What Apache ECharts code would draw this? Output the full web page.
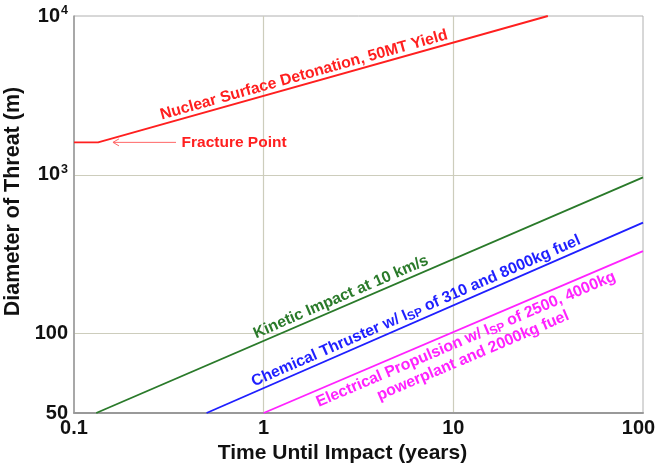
<!DOCTYPE html>
<html><head><meta charset="utf-8">
<script src="https://cdn.jsdelivr.net/npm/echarts@6/dist/echarts.min.js"></script>
<style>html,body{margin:0;padding:0;background:#fff}#c{width:655px;height:465px}</style>
</head><body><div id="c"></div>
<script>
// ---- axis ticks ----
const xTickValues = [0.1, 1, 10, 100];
const xTickLabels = ['0.1', '1', '10', '{last|100}'];
const yTickValues = [31.6, 100, 1000, 10000];
const yTickLabels = ['50', '100', '10{sup|3}', '10{sup|4}'];

// ---- series (time in years, diameter in m) ----
const nuclearTime = [0.1, 0.134, 31.5];
const nuclearDiam = [1600, 1600, 10000];
const kineticTime = [0.131, 100];
const kineticDiam = [31.6, 964];
const chemicalTime = [0.5, 100];
const chemicalDiam = [31.6, 500];
const electricTime = [1, 100];
const electricDiam = [31.6, 330];

// ---- annotation anchors (data coords) ----
const nuclearLabelAt = [1.63, 4246];
const fractureLabelAt = [0.698, 1585];
const fractureArrowFrom = [0.345, 1600];
const fractureArrowTo = [0.1605, 1600];
const kineticLabelAt = [2.557, 169.8];
const chemicalLabelAt = [6.355, 138.6];
const electricLabelAt = [12.17, 81.6];

const FONT = '"Liberation Sans", Arial, Helvetica, sans-serif';
const C_RED = '#ff1f1f', C_GREEN = '#2a7a2a', C_BLUE = '#1f1fff', C_MAG = '#ff22ff';

function zip(xs, ys) { return xs.map((x, i) => [x, ys[i]]); }
function nearestLabel(v, vals, labels) {
  let best = 0, bd = Infinity;
  vals.forEach((t, i) => { const d = Math.abs(Math.log10(v) - Math.log10(t)); if (d < bd) { bd = d; best = i; } });
  return bd < 0.05 ? labels[best] : '';
}

const chart = echarts.init(document.getElementById('c'), null, { renderer: 'canvas' });
const lineSeries = (name, xs, ys, color) => ({
  name, type: 'line', data: zip(xs, ys), showSymbol: false, symbol: 'none',
  lineStyle: { color, width: 1.9 }, itemStyle: { color }, z: 5, silent: true
});
const TICK_FS = 20;

chart.setOption({
  animation: false,
  backgroundColor: '#fff',
  grid: { left: 74, right: 12, top: 16, bottom: 52, show: true, borderColor: '#b0b0b0', borderWidth: 1,
    containLabel: false, outerBoundsMode: 'none' },
  xAxis: {
    type: 'log', logBase: 10, min: xTickValues[0], max: xTickValues[xTickValues.length - 1],
    name: 'Time Until Impact (years)', nameLocation: 'middle', nameGap: 27,
    nameTextStyle: { fontFamily: FONT, fontWeight: 'bold', fontSize: 21, color: '#111', padding: [0, 32, 0, 0] },
    axisLine: { lineStyle: { color: '#999', width: 2 } },
    axisTick: { show: false },
    axisLabel: { fontFamily: FONT, fontWeight: 'bold', fontSize: TICK_FS, color: '#111', margin: 5,
      showMinLabel: true, showMaxLabel: true, hideOverlap: false,
      formatter: v => nearestLabel(v, xTickValues, xTickLabels),
      rich: { last: { fontFamily: FONT, fontWeight: 'bold', fontSize: TICK_FS, color: '#111', padding: [0, 9, 0, 0] } } },
    splitLine: { show: true, showMinLine: false, showMaxLine: false, lineStyle: { color: '#cdcdbc', width: 1.2 } }
  },
  yAxis: {
    type: 'log', logBase: 10, min: yTickValues[0], max: yTickValues[yTickValues.length - 1],
    name: 'Diameter of Threat (m)', nameLocation: 'middle', nameGap: 41,
    nameTextStyle: { fontFamily: FONT, fontWeight: 'bold', fontSize: 21.5, color: '#111', padding: [0, 0, 0, 26] },
    axisLine: { lineStyle: { color: '#999', width: 1.5 } },
    axisTick: { show: false },
    axisLabel: { fontFamily: FONT, fontWeight: 'bold', fontSize: TICK_FS, color: '#111', margin: 6,
      showMinLabel: true, showMaxLabel: true, hideOverlap: false,
      formatter: v => nearestLabel(v, yTickValues, yTickLabels),
      rich: { sup: { fontFamily: FONT, fontWeight: 'bold', fontSize: 12.5, color: '#111', verticalAlign: 'top', padding: [0, 0, 10, 1] } } },
    splitLine: { show: true, showMinLine: false, showMaxLine: false, lineStyle: { color: '#cdcdbc', width: 1.2 } }
  },
  series: [
    lineSeries('Nuclear Surface Detonation, 50MT Yield', nuclearTime, nuclearDiam, C_RED),
    lineSeries('Kinetic Impact at 10 km/s', kineticTime, kineticDiam, C_GREEN),
    lineSeries('Chemical Thruster', chemicalTime, chemicalDiam, C_BLUE),
    lineSeries('Electrical Propulsion', electricTime, electricDiam, C_MAG)
  ]
});

function px(pt) { return chart.convertToPixel({ gridIndex: 0 }, pt); }
function angleOf(a, b) { const p = px(a), q = px(b); return Math.atan2(-(q[1] - p[1]), q[0] - p[0]); }
function textEl(text, at, rot, color, size, rich) {
  const p = px(at);
  return { type: 'text', x: p[0], y: p[1], rotation: rot, z: 50, silent: true,
    style: { text, fill: color, fontFamily: FONT, fontWeight: 'bold', fontSize: size,
      align: 'center', verticalAlign: 'middle', lineHeight: size + 2, rich: rich || {} } };
}
const subRich = (color, size) => ({ sub: { fill: color, color, fontFamily: FONT, fontWeight: 'bold', fontSize: size - 4, verticalAlign: 'bottom', padding: [4, 0, 0, 0] } });

const aN = angleOf([nuclearTime[1], nuclearDiam[1]], [nuclearTime[2], nuclearDiam[2]]);
const aK = angleOf([kineticTime[0], kineticDiam[0]], [kineticTime[1], kineticDiam[1]]);
const aC = angleOf([chemicalTime[0], chemicalDiam[0]], [chemicalTime[1], chemicalDiam[1]]);
const aE = angleOf([electricTime[0], electricDiam[0]], [electricTime[1], electricDiam[1]]);
const h = px(fractureArrowTo), t = px(fractureArrowFrom);
const ANN = 15.8;

chart.setOption({
  graphic: [
    textEl('Nuclear Surface Detonation, 50MT Yield', nuclearLabelAt, aN, C_RED, ANN),
    textEl('Fracture Point', fractureLabelAt, 0, C_RED, 15.5),
    { type: 'polyline', z: 50, silent: true, shape: { points: [t, h] }, style: { stroke: '#ff6666', lineWidth: 1, fill: null } },
    { type: 'polyline', z: 50, silent: true, shape: { points: [[h[0] + 6, h[1] - 3.5], h, [h[0] + 6, h[1] + 3.5]] }, style: { stroke: '#ff6666', lineWidth: 1, fill: null } },
    textEl('Kinetic Impact at 10 km/s', kineticLabelAt, aK, C_GREEN, ANN),
    textEl('Chemical Thruster w/ I{sub|SP} of 310 and 8000kg fuel', chemicalLabelAt, aC, C_BLUE, ANN, subRich(C_BLUE, ANN)),
    textEl('Electrical Propulsion w/ I{sub|SP} of 2500, 4000kg\npowerplant and 2000kg fuel', electricLabelAt, aE, C_MAG, ANN, subRich(C_MAG, ANN))
  ]
});
</script></body></html>
